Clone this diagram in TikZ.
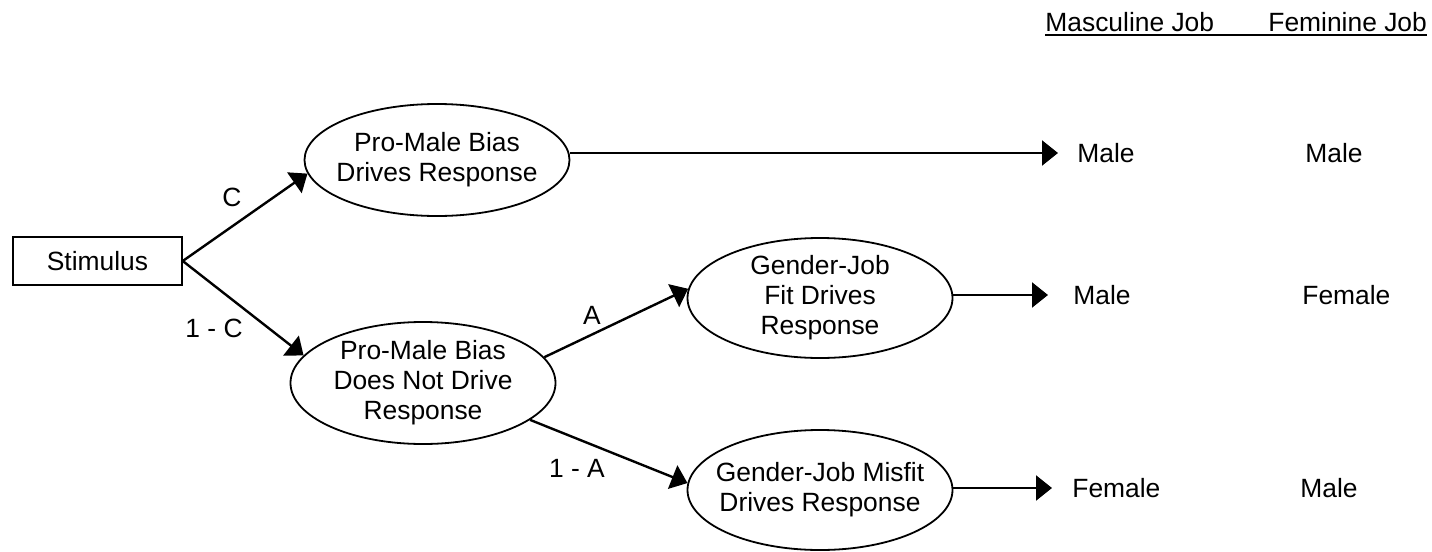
\documentclass[tikz,border=0pt]{standalone}
\usepackage{fontspec}
\setmainfont{Liberation Sans}
\usepackage{tikz}
\usetikzlibrary{shapes.geometric, arrows.meta, calc}
\tikzset{
    stim-box/.style = {draw, line width=0.75pt, minimum width=84.5pt, minimum height=24pt, inner sep=0pt},
    state/.style = {draw, ellipse, line width=0.9pt, align=center,
        inner xsep=-20pt, inner ysep=-8pt, minimum width=132.5pt, minimum height=60pt},
    outcome/.style = {anchor=west, inner sep=0pt},
    prob/.style = {inner sep=0pt},
    branch/.style = {line width=1.2pt, -{Triangle[length=8pt,width=12.5pt]}},
}

\begin{document}
\begin{tikzpicture}[x=0.5pt,y=-0.5pt,font=\fontsize{13.2}{15}\selectfont]
\useasboundingbox (0,0) rectangle (1432,552);

\node[anchor=base west, inner sep=0pt] (masc) at (1045,31) {Masculine Job};
\node[anchor=base west, inner sep=0pt] (fem) at (1268,31) {Feminine Job};
\draw[line width=0.75pt] ([yshift=-2pt]masc.base west) -- ([yshift=-2pt]fem.base east);

\node[stim-box] (stim) at (97.5,261) {Stimulus};

\node[state, minimum height=56pt] (bias) at (437,160) {Pro-Male Bias\\Drives Response};
\node[state, minimum height=61pt] (nobias) at (423,383) {Pro-Male Bias\\Does Not Drive\\Response};
\node[state] (fit) at (820,298) {Gender-Job\\Fit Drives\\Response};
\node[state] (misfit) at (820,490) {Gender-Job Misfit\\Drives Response};

\node[outcome] (m1) at (1077,153) {Male};
\node[outcome] (f1) at (1305,153) {Male};
\node[outcome] (m2) at (1073,295) {Male};
\node[outcome] (f2) at (1302,295) {Female};
\node[outcome] (m3) at (1072,488) {Female};
\node[outcome] (f3) at (1300,488) {Male};

\node[prob] (c) at (232,197) {C};
\node[prob] (notc) at (214,328) {1 - C};
\node[prob] (a) at (592,315) {A};
\node[prob] (nota) at (577,468) {1 - A};

\draw[branch] (stim.east) -- (bias.186);
\draw[branch] (stim.east) -- (nobias.167);
\draw[branch] (nobias.12) -- (fit.176);
\draw[branch] (nobias.341) -- (misfit.177);

\draw[branch, shorten >=9.5pt] (bias.east |- m1.west) -- (m1.west);
\draw[branch, shorten >=12.5pt] (fit.east |- m2.west) -- (m2.west);
\draw[branch, shorten >=10pt] (misfit.east |- m3.west) -- (m3.west);

\end{tikzpicture}
\end{document}
